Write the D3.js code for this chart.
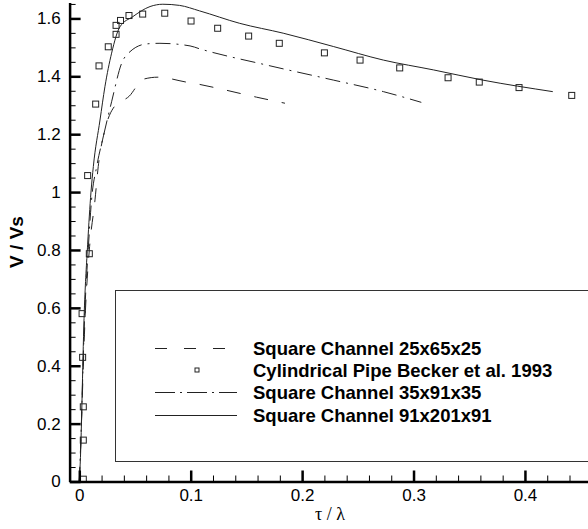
<!DOCTYPE html>
<html>
<head>
<meta charset="utf-8">
<script src="https://cdn.jsdelivr.net/npm/d3@7"></script>
<style>
  body { margin: 0; background: #fff; }
  svg { display: block; }
  text { font-family: "Liberation Sans", Arial, Helvetica, sans-serif; }
</style>
</head>
<body>
<div id="chart"></div>
<script>
// Square Channel 25x65x25 (dashed)
const tau25 = [0, 0.001, 0.0055, 0.009, 0.0141, 0.017, 0.023, 0.0305, 0.045, 0.0575, 0.0706, 0.096, 0.108, 0.1203, 0.159, 0.1846];
const v25 = [0, 0.1, 0.59, 0.8, 0.973, 1.088, 1.215, 1.29, 1.332, 1.39, 1.397, 1.38, 1.372, 1.362, 1.328, 1.307];

// Square Channel 35x91x35 (dash-dot)
const tau35 = [0, 0.001, 0.005, 0.008, 0.011, 0.0156, 0.0215, 0.029, 0.038, 0.0455, 0.0605, 0.0724, 0.0994, 0.108, 0.168, 0.228, 0.273, 0.307];
const v35 = [0, 0.1, 0.59, 0.8, 0.973, 1.088, 1.191, 1.312, 1.445, 1.485, 1.512, 1.514, 1.505, 1.495, 1.439, 1.387, 1.347, 1.31];

// Square Channel 91x201x91 (solid)
const tau91 = [0, 0.0008, 0.0045, 0.0075, 0.0105, 0.0126, 0.0186, 0.023, 0.029, 0.0365, 0.048, 0.0635, 0.075, 0.09, 0.108, 0.144, 0.183, 0.228, 0.273, 0.318, 0.362, 0.425];
const v91 = [0, 0.06, 0.59, 0.82, 1.0, 1.088, 1.249, 1.364, 1.48, 1.571, 1.606, 1.641, 1.649, 1.645, 1.626, 1.583, 1.549, 1.503, 1.456, 1.422, 1.387, 1.347];

// Cylindrical Pipe Becker et al. 1993 (squares)
const tauBecker = [0.0036, 0.0036, 0.0036, 0.003, 0.0025, 0.009, 0.0075, 0.0147, 0.0177, 0.026, 0.033, 0.033, 0.037, 0.0446, 0.0569, 0.0767, 0.1003, 0.1242, 0.152, 0.1795, 0.22, 0.252, 0.2876, 0.331, 0.359, 0.3947, 0.442];
const vBecker = [0.008, 0.143, 0.258, 0.429, 0.58, 0.787, 1.057, 1.304, 1.436, 1.502, 1.545, 1.576, 1.593, 1.61, 1.615, 1.618, 1.591, 1.566, 1.539, 1.514, 1.481, 1.456, 1.429, 1.395, 1.38, 1.361, 1.334];

const xMajor = [0, 0.1, 0.2, 0.3, 0.4];
const xLabels = ["0", "0.1", "0.2", "0.3", "0.4"];
const yMajor = [0, 0.2, 0.4, 0.6, 0.8, 1, 1.2, 1.4, 1.6];
const yLabels = ["0", "0.2", "0.4", "0.6", "0.8", "1", "1.2", "1.4", "1.6"];

const legendNames = [
  "Square Channel 25x65x25",
  "Cylindrical Pipe Becker et al. 1993",
  "Square Channel 35x91x35",
  "Square Channel 91x201x91"
];

const width = 588;
const height = 529;

const x = d3.scaleLinear().domain([-0.0087, 0.4566]).range([69.6, 588]);
const y = d3.scaleLinear().domain([0, 1.655]).range([481.5, 2.5]);

const svg = d3
  .select("#chart")
  .append("svg")
  .attr("width", width)
  .attr("height", height);

// legend box (behind the curves)
svg
  .append("rect")
  .attr("x", 115.5)
  .attr("y", 290.5)
  .attr("width", 500)
  .attr("height", 171)
  .style("fill", "none")
  .style("stroke", "#333")
  .style("stroke-width", 1);

// curves
const line = d3
  .line()
  .x((d) => x(d[0]))
  .y((d) => y(d[1]))
  .curve(d3.curveMonotoneX);

const series = [
  { t: tau25, v: v25, dash: "14,14" },
  { t: tau35, v: v35, dash: "15,6,2,6" },
  { t: tau91, v: v91, dash: null }
];

series.forEach((s) => {
  svg
    .append("path")
    .datum(d3.zip(s.t, s.v))
    .attr("d", line)
    .style("fill", "none")
    .style("stroke", "#222")
    .style("stroke-width", 1)
    .style("stroke-dasharray", s.dash);
});

// Becker squares
svg
  .selectAll(".becker")
  .data(d3.zip(tauBecker, vBecker))
  .enter()
  .append("rect")
  .attr("class", "becker")
  .attr("x", (d) => x(d[0]) - 3)
  .attr("y", (d) => y(d[1]) - 3)
  .attr("width", 6)
  .attr("height", 6)
  .style("fill", "none")
  .style("stroke", "#222")
  .style("stroke-width", 1);

// axes: minor ticks
const xMinor = d3.range(0, 0.47, 0.02).filter((v) => Math.abs(v * 10 - Math.round(v * 10)) > 1e-6);
const yMinor = d3.range(0, 1.66, 0.05).filter((v) => Math.abs(v * 5 - Math.round(v * 5)) > 1e-6);

svg
  .append("g")
  .attr("transform", `translate(0,${y(0)})`)
  .call(d3.axisBottom(x).tickValues(xMinor).tickSizeInner(-6).tickSizeOuter(0).tickFormat(""))
  .call((g) => g.select(".domain").remove())
  .call((g) => g.selectAll("line").attr("stroke", "#000").attr("stroke-width", 1));

svg
  .append("g")
  .attr("transform", `translate(${x.range()[0]},0)`)
  .call(d3.axisLeft(y).tickValues(yMinor).tickSizeInner(-6).tickSizeOuter(0).tickFormat(""))
  .call((g) => g.select(".domain").remove())
  .call((g) => g.selectAll("line").attr("stroke", "#000").attr("stroke-width", 1));

// axes: major ticks with labels
svg
  .append("g")
  .attr("transform", `translate(0,${y(0)})`)
  .call(
    d3.axisBottom(x)
      .tickValues(xMajor)
      .tickSizeInner(-11)
      .tickSizeOuter(0)
      .tickPadding(7)
      .tickFormat((d, i) => xLabels[i])
  )
  .call((g) => g.select(".domain").attr("stroke", "#000").attr("stroke-width", 2.5))
  .call((g) => g.selectAll("line").attr("stroke", "#000").attr("stroke-width", 2.5))
  .call((g) => g.selectAll("text").attr("font-size", 17).attr("font-family", "Liberation Sans, Arial, sans-serif").attr("fill", "#000"));

svg
  .append("g")
  .attr("transform", `translate(${x.range()[0]},0)`)
  .call(
    d3.axisLeft(y)
      .tickValues(yMajor)
      .tickSizeInner(-11)
      .tickSizeOuter(0)
      .tickPadding(9)
      .tickFormat((d, i) => yLabels[i])
  )
  .call((g) => g.select(".domain").attr("stroke", "#000").attr("stroke-width", 2.5))
  .call((g) => g.selectAll("line").attr("stroke", "#000").attr("stroke-width", 2.5))
  .call((g) => g.selectAll("text").attr("font-size", 17).attr("font-family", "Liberation Sans, Arial, sans-serif").attr("fill", "#000"));

// axis titles
svg
  .append("text")
  .attr("transform", `translate(23,242) rotate(-90)`)
  .attr("text-anchor", "middle")
  .style("font-size", "19px")
  .style("font-weight", "bold")
  .text("V / Vs");

svg
  .append("text")
  .attr("x", 330)
  .attr("y", 520)
  .attr("text-anchor", "middle")
  .style("font-family", "'Liberation Serif', 'Times New Roman', serif")
  .style("font-size", "18px")
  .text("τ / λ");

// legend
const legend = svg.append("g");
const rowY = [348.5, 370, 392.5, 415.5];
const legendDash = ["12,17", null, "20,5,2,5", null];

legendNames.forEach((name, i) => {
  if (i === 1) {
    legend
      .append("rect")
      .attr("x", 195)
      .attr("y", rowY[i] - 2)
      .attr("width", 4)
      .attr("height", 4)
      .style("fill", "none")
      .style("stroke", "#222")
      .style("stroke-width", 1);
  } else {
    legend
      .append("line")
      .attr("x1", 155)
      .attr("x2", 237)
      .attr("y1", rowY[i])
      .attr("y2", rowY[i])
      .style("stroke", "#222")
      .style("stroke-width", 1)
      .style("stroke-dasharray", legendDash[i]);
  }
  legend
    .append("text")
    .attr("x", 253)
    .attr("y", rowY[i] + 6.5)
    .style("font-size", "18.5px")
    .style("font-weight", "bold")
    .text(name);
});
</script>
</body>
</html>
